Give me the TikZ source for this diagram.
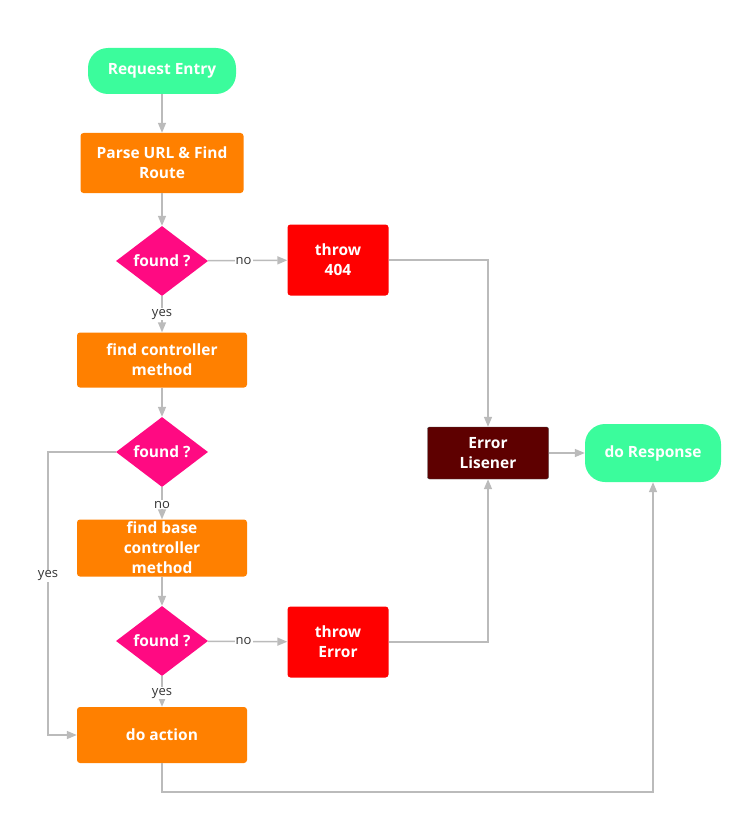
\documentclass[tikz,border=0pt]{standalone}
\usepackage{fontspec}
\setmainfont{Open Sans}
\usetikzlibrary{shapes.geometric,arrows.meta}

\definecolor{termgreen}{HTML}{3BFC9C}
\definecolor{procorange}{HTML}{FF8000}
\definecolor{askpink}{HTML}{FF0A82}
\definecolor{errred}{HTML}{FF0000}
\definecolor{listenred}{HTML}{5E0000}
\definecolor{linegray}{HTML}{BBBBBB}

\begin{document}
\begin{tikzpicture}[
    x=1pt, y=-1pt,
    every node/.style={font=\bfseries\fontsize{15.5}{20}\selectfont, text=white,
                       align=center, inner sep=2pt},
    terminal/.style = {fill=termgreen, rounded corners=20pt,
                       minimum width=148pt, minimum height=46pt},
    process/.style  = {fill=procorange, rounded corners=3pt,
                       minimum width=170pt, minimum height=56pt},
    decision/.style = {diamond, fill=askpink, aspect=1.31, inner sep=0pt,
                       minimum width=92pt, minimum height=70pt},
    throwbox/.style = {fill=errred, rounded corners=3pt,
                       minimum width=101pt, minimum height=71pt},
    listener/.style = {fill=listenred, draw=black!70, rounded corners=2pt,
                       minimum width=121pt, minimum height=52pt},
    flow/.style     = {draw=linegray, line width=1.5pt,
                       -{Triangle[length=10pt,width=8pt]}},
    answer/.style   = {font=\fontsize{13}{15}\selectfont, text=black!80,
                       fill=white, inner sep=1pt},
  ]
  \useasboundingbox (0,0) rectangle (752,824);

  % main column
  \node[terminal] (entry) at (162,71) {Request Entry};
  \node[process, minimum width=163pt, minimum height=60pt] (parse) at (162,163)
       {Parse URL \& Find\\Route};
  \node[decision] (found1) at (162,261) {found ?};
  \node[process, minimum height=55pt] (findctl) at (162,360)
       {find controller\\method};
  \node[decision] (found2) at (162,452) {found ?};
  \node[process, minimum height=57pt, inner sep=0pt] (findbase) at (162,548)
       {find base\\controller\\method};
  \node[decision] (found3) at (162,641) {found ?};
  \node[process] (action) at (162,735) {do action};

  % error side
  \node[throwbox] (throw404) at (338,260) {throw\\404};
  \node[throwbox] (throwerr) at (338,642) {throw\\Error};
  \node[listener] (listen) at (488,453) {Error\\Lisener};
  \node[terminal, minimum width=136pt, minimum height=58pt] (response)
       at (653,453) {do Response};

  % connectors
  \draw[flow] (entry) -- (parse);
  \draw[flow] (parse) -- (found1);
  \draw[flow] (found1) -- node[answer, pos=0.45] {no} (throw404);
  \draw[flow] (found1) -- node[answer, pos=0.5] {yes} (findctl);
  \draw[flow] (findctl) -- (found2);
  \draw[flow] (found2) -- node[answer, pos=0.55] {no} (findbase);
  \draw[flow] (found2.west) -| (48,576) node[answer] {yes}
       |- (action.west);
  \draw[flow] (findbase) -- (found3);
  \draw[flow] (found3) -- node[answer, pos=0.45] {no} (throwerr);
  \draw[flow] (found3) -- node[answer, pos=0.55] {yes} (action);
  \draw[flow] (throw404.east) -| (listen.north);
  \draw[flow] (throwerr.east) -| (listen.south);
  \draw[flow] (listen) -- (response);
  \draw[flow] (action.south) -- (162,792) -| (response.south);
\end{tikzpicture}
\end{document}
